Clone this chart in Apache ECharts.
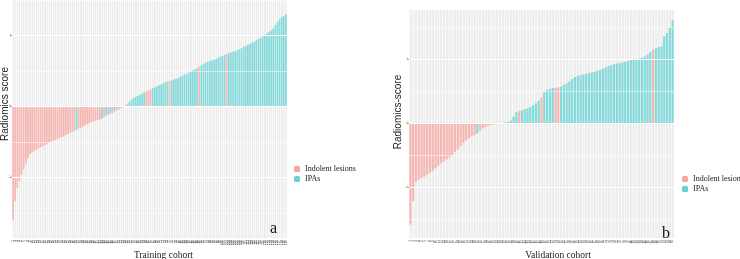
<!DOCTYPE html>
<html>
<head>
<meta charset="utf-8">
<script src="https://cdn.jsdelivr.net/npm/echarts@6/dist/echarts.min.js"></script>
<style>
  html, body { margin: 0; padding: 0; background: #fff; }
  #chart { width: 740px; height: 259px; }
</style>
</head>
<body>
<div id="chart"></div>
<script>
// training cohort, sorted radiomics score per patient
const trainScores = [
  -1.59, -1.33, -1.15, -1.05, -0.96, -0.88, -0.80, -0.73, -0.67, -0.65,
  -0.63, -0.61, -0.59, -0.57, -0.56, -0.54, -0.53, -0.51, -0.49, -0.48,
  -0.47, -0.46, -0.44, -0.43, -0.42, -0.40, -0.39, -0.37, -0.36, -0.34,
  -0.33, -0.31, -0.30, -0.28, -0.27, -0.25, -0.24, -0.22, -0.21, -0.20,
  -0.19, -0.18, -0.17, -0.15, -0.13, -0.12, -0.10, -0.09, -0.07, -0.05,
  -0.04, -0.02, -0.01, 0.01, 0.04, 0.07, 0.10, 0.12, 0.14, 0.15,
  0.17, 0.18, 0.20, 0.21, 0.23, 0.24, 0.26, 0.27, 0.28, 0.30,
  0.31, 0.33, 0.34, 0.35, 0.36, 0.37, 0.38, 0.39, 0.40, 0.42,
  0.43, 0.45, 0.46, 0.48, 0.49, 0.51, 0.52, 0.54, 0.56, 0.58,
  0.60, 0.62, 0.63, 0.64, 0.65, 0.66, 0.67, 0.69, 0.70, 0.71,
  0.73, 0.74, 0.75, 0.76, 0.77, 0.78, 0.79, 0.81, 0.82, 0.84,
  0.85, 0.87, 0.88, 0.90, 0.91, 0.93, 0.95, 0.97, 0.99, 1.01,
  1.03, 1.05, 1.07, 1.10, 1.15, 1.19, 1.23, 1.26, 1.28, 1.30
]
// 0 = indolent lesion, 1 = IPA
const trainClass = [
  0, 0, 0, 0, 0, 0, 0, 0, 0, 0,
  0, 0, 0, 0, 0, 0, 0, 0, 0, 0,
  0, 0, 0, 0, 0, 0, 0, 0, 0, 0,
  1, 0, 0, 0, 0, 0, 0, 0, 0, 0,
  0, 0, 1, 0, 1, 0, 1, 0, 1, 0,
  0, 0, 0, 1, 0, 1, 1, 1, 1, 1,
  1, 1, 1, 0, 0, 0, 1, 1, 1, 1,
  1, 1, 1, 1, 0, 1, 1, 1, 1, 1,
  1, 1, 1, 1, 1, 1, 1, 1, 0, 1,
  1, 1, 1, 1, 1, 1, 1, 1, 1, 1,
  1, 0, 1, 1, 1, 1, 1, 1, 1, 1,
  1, 1, 1, 1, 1, 1, 1, 1, 1, 1,
  1, 1, 1, 1, 1, 1, 1, 1, 1, 1
]
// validation cohort
const validScores = [
  -1.59, -1.22, -0.92, -0.89, -0.86, -0.84, -0.81, -0.78, -0.75, -0.71,
  -0.67, -0.63, -0.60, -0.57, -0.54, -0.50, -0.45, -0.41, -0.36, -0.31,
  -0.27, -0.24, -0.21, -0.19, -0.16, -0.12, -0.08, -0.06, -0.04, -0.03,
  -0.02, -0.01, -0.005, 0.005, 0.01, 0.02, 0.04, 0.10, 0.17, 0.19,
  0.20, 0.22, 0.23, 0.25, 0.28, 0.31, 0.35, 0.40, 0.48, 0.52,
  0.53, 0.55, 0.55, 0.56, 0.57, 0.60, 0.62, 0.65, 0.69, 0.72,
  0.74, 0.75, 0.76, 0.77, 0.78, 0.79, 0.80, 0.82, 0.83, 0.85,
  0.87, 0.89, 0.91, 0.92, 0.93, 0.94, 0.95, 0.96, 0.97, 0.99,
  1.00, 1.00, 1.01, 1.02, 1.04, 1.07, 1.11, 1.15, 1.17, 1.19,
  1.20, 1.36, 1.41, 1.50, 1.61
]
const validClass = [
  0, 0, 0, 0, 0, 0, 0, 0, 0, 0,
  0, 0, 0, 0, 0, 0, 0, 0, 0, 0,
  0, 0, 0, 0, 1, 0, 0, 0, 0, 0,
  0, 0, 0, 0, 1, 1, 1, 1, 1, 0,
  1, 1, 1, 1, 1, 1, 1, 0, 1, 1,
  1, 1, 0, 0, 1, 1, 1, 1, 1, 1,
  1, 1, 1, 1, 1, 1, 1, 1, 1, 1,
  1, 1, 1, 1, 1, 1, 1, 1, 1, 1,
  1, 1, 1, 1, 1, 1, 1, 0, 1, 1,
  1, 1, 1, 1, 1
]
const trainIds = trainScores.map((v, i) => String(i + 1))
const validIds = validScores.map((v, i) => String(i + 1))
const yTicks = [-1, 0, 1]
const gridMajor = [-1, 0, 1]
const gridMinor = [-1.5, -0.5, 0.5, 1.5]

const PINK = '#F5B6B1'
const CYAN = '#84D9DB'
const serif = '"Liberation Serif", "Times New Roman", serif'
const sans = '"Liberation Sans", Arial, sans-serif'

const chart = echarts.init(document.getElementById('chart'))

function pick(scores, cls, c) {
  return scores.map((v, i) => (cls[i] === c ? v : '-'))
}

function xAxisOf(ids, gridIndex, name, pad) {
  return {
    type: 'category',
    gridIndex,
    data: ids,
    name,
    nameLocation: 'middle',
    nameGap: 12,
    nameMoveOverlap: false,
    nameTextStyle: { fontFamily: serif, fontSize: 9.5, color: '#222', padding: [0, 0, 0, pad] },
    axisLine: { show: false },
    axisTick: { show: false },
    axisLabel: { interval: 0, rotate: 90, fontSize: 3, color: '#444', margin: 2 },
    splitLine: { show: true, interval: 0, lineStyle: { color: '#fff', width: 0.6 } }
  }
}

function yAxisOf(gridIndex, min, max, name, gap, pad) {
  return {
    type: 'value',
    gridIndex,
    min,
    max,
    name,
    nameLocation: 'middle',
    nameGap: gap,
    nameMoveOverlap: false,
    nameTextStyle: { fontFamily: sans, fontSize: 10, color: '#222', padding: [0, 0, 0, pad] },
    axisLine: { show: false },
    axisTick: { show: true, length: 2, customValues: yTicks, lineStyle: { color: '#999' } },
    axisLabel: { fontSize: 3, color: '#888', margin: 1, customValues: yTicks },
    splitLine: { show: false }
  }
}

function gridLines(xi, yi) {
  const lines = gridMajor.map(v => ({ yAxis: v, lineStyle: { width: 1.1 } }))
    .concat(gridMinor.map(v => ({ yAxis: v, lineStyle: { width: 0.5 } })))
  return {
    type: 'line',
    xAxisIndex: xi,
    yAxisIndex: yi,
    data: [],
    z: 1,
    silent: true,
    markLine: {
      symbol: 'none',
      silent: true,
      animation: false,
      label: { show: false },
      lineStyle: { color: '#fff', type: 'solid' },
      data: lines
    }
  }
}

function bars(name, data, color, xi, stack) {
  return {
    name,
    type: 'bar',
    xAxisIndex: xi,
    yAxisIndex: xi,
    stack,
    data,
    barCategoryGap: '22%',
    itemStyle: { color },
    z: 3
  }
}

const legendItems = [
  { name: 'Indolent lesions', itemStyle: { color: '#F4A7A6' } },
  { name: 'IPAs', itemStyle: { color: '#66D1D3' } }
]

chart.setOption({
  animation: false,
  grid: [
    { left: 12, top: 0, width: 275, height: 238, outerBoundsMode: 'none', containLabel: false, show: true, backgroundColor: '#EDEDED', borderWidth: 0 },
    { left: 409, top: 10, width: 265, height: 228, outerBoundsMode: 'none', containLabel: false, show: true, backgroundColor: '#EDEDED', borderWidth: 0 }
  ],
  legend: [
    {
      orient: 'vertical', left: 294, top: 165, padding: 0, itemWidth: 6, itemHeight: 6, itemGap: 2,
      textStyle: { fontFamily: serif, fontSize: 8, color: '#222' },
      data: legendItems
    },
    {
      orient: 'vertical', left: 682, top: 175, padding: 0, itemWidth: 6, itemHeight: 6, itemGap: 2,
      textStyle: { fontFamily: serif, fontSize: 8, color: '#222' },
      data: legendItems
    }
  ],
  xAxis: [
    xAxisOf(trainIds, 0, 'Training cohort', 28),
    xAxisOf(validIds, 1, 'Validation cohort', 33)
  ],
  yAxis: [
    yAxisOf(0, -1.85, 1.5, 'Radiomics score', 2, 30),
    yAxisOf(1, -1.8, 1.77, 'Radiomics-score', 6, 24)
  ],
  series: [
    gridLines(0, 0),
    gridLines(1, 1),
    bars('Indolent lesions', pick(trainScores, trainClass, 0), PINK, 0, 'a'),
    bars('IPAs', pick(trainScores, trainClass, 1), CYAN, 0, 'a'),
    bars('Indolent lesions', pick(validScores, validClass, 0), PINK, 1, 'b'),
    bars('IPAs', pick(validScores, validClass, 1), CYAN, 1, 'b')
  ],
  graphic: [
    { type: 'text', left: 270, top: 221, z: 10, style: { text: 'a', font: '16px ' + serif, fill: '#111' } },
    { type: 'text', left: 662, top: 226, z: 10, style: { text: 'b', font: '16px ' + serif, fill: '#111' } }
  ]
})
</script>
</body>
</html>
